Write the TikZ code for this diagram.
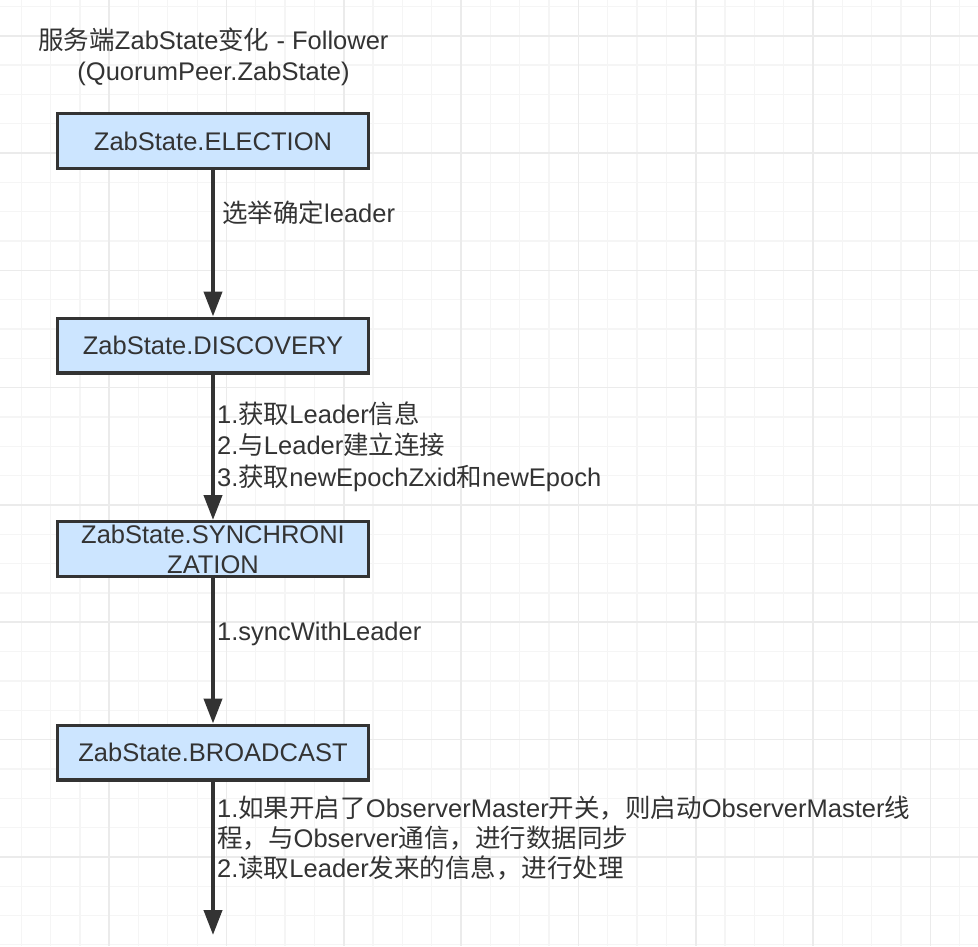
\documentclass[tikz,border=0pt]{standalone}
\usepackage{fontspec}
\setmainfont{Liberation Sans}
\newfontfamily\cjk{Noto Sans CJK SC}
\newcommand\hanzi[1]{{\cjk #1}}
\usetikzlibrary{arrows.meta}
\definecolor{inkgray}{HTML}{333333}
\definecolor{statefill}{HTML}{CCE5FF}
\definecolor{gridminor}{HTML}{F5F5F5}
\definecolor{gridmajor}{HTML}{EBEBEB}

\begin{document}
\begin{tikzpicture}[x=1pt,y=-1pt,
    state/.style={draw=inkgray,fill=statefill,line width=3.2pt,
      minimum width=310.8pt,minimum height=54.8pt,inner sep=0pt,
      text=inkgray,align=center},
    flow/.style={draw=inkgray,line width=4pt,-{Triangle[length=25pt,width=18pt]}},
    edgetext/.style={anchor=west,inner sep=0pt,text=inkgray,align=left}]
                    \useasboundingbox (0,0) rectangle (978,946);
                    {\fontsize{25.5}{31.5}\selectfont

                    % Drawing background grid
                    \fill [white] (0,0) rectangle (978,946);
                    \foreach \i in {0,...,33}
                      \draw [gridminor,line width=1.3pt] ({21.2+29.325*\i},0) -- ({21.2+29.325*\i},946);
                    \foreach \j in {0,...,32}
                      \draw [gridminor,line width=1.3pt] (0,{6.4+29.325*\j}) -- (978,{6.4+29.325*\j});
                    \foreach \i in {-1,...,7}
                      \draw [gridmajor,line width=1.6pt] ({109.2+117.3*\i},0) -- ({109.2+117.3*\i},946);
                    \foreach \j in {0,...,7}
                      \draw [gridmajor,line width=1.6pt] (0,{35.7+117.3*\j}) -- (978,{35.7+117.3*\j});

                    % Marking title
                    \node [text=inkgray,align=center,inner sep=0pt] (title) at (213.500000,57.000000)
                      {\hanzi{服务端}ZabState\hanzi{变化} - Follower\\(QuorumPeer.ZabState)};

                    % Drawing state ELECTION
                    \node [state] (election) at (213.000000,141.000000) {ZabState.ELECTION};

                    % Drawing state DISCOVERY
                    \node [state] (discovery) at (213.000000,345.500000) {ZabState.DISCOVERY};

                    % Drawing state SYNCHRONIZATION
                    \node [state,font=\fontsize{25.5}{30}\selectfont] (sync) at (213.000000,549.000000)
                      {ZabState.SYNCHRONI\\ZATION};

                    % Drawing state BROADCAST
                    \node [state] (broadcast) at (213.000000,752.500000) {ZabState.BROADCAST};

                    % Marking end of last transition
                    \coordinate (tail) at (213.000000,935.000000);

                    % Drawing transitions
                    \draw [flow] (election) -- (discovery);
                    \draw [flow] (discovery) -- (sync);
                    \draw [flow] (sync) -- (broadcast);
                    \draw [flow] (broadcast) -- (tail);

                    % Marking transition texts
                    \node [edgetext] (electtext) at (222.000000,213.000000) {\hanzi{选举确定}leader};
                    \node [edgetext] (discotext) at (217.000000,446.500000)
                      {1.\hanzi{获取}Leader\hanzi{信息}\\
                       2.\hanzi{与}Leader\hanzi{建立连接}\\
                       3.\hanzi{获取}newEpochZxid\hanzi{和}newEpoch};
                    \node [edgetext] (synctext) at (217.000000,634.000000) {1.syncWithLeader};
                    \node [edgetext,font=\fontsize{25.5}{30}\selectfont] (broadtext) at (217.000000,838.000000)
                      {1.\hanzi{如果开启了}ObserverMaster\hanzi{开关，则启动}ObserverMaster\hanzi{线}\\
                       \hanzi{程，与}Observer\hanzi{通信，进行数据同步}\\
                       2.\hanzi{读取}Leader\hanzi{发来的信息，进行处理}};
                    }
\end{tikzpicture}
\end{document}
